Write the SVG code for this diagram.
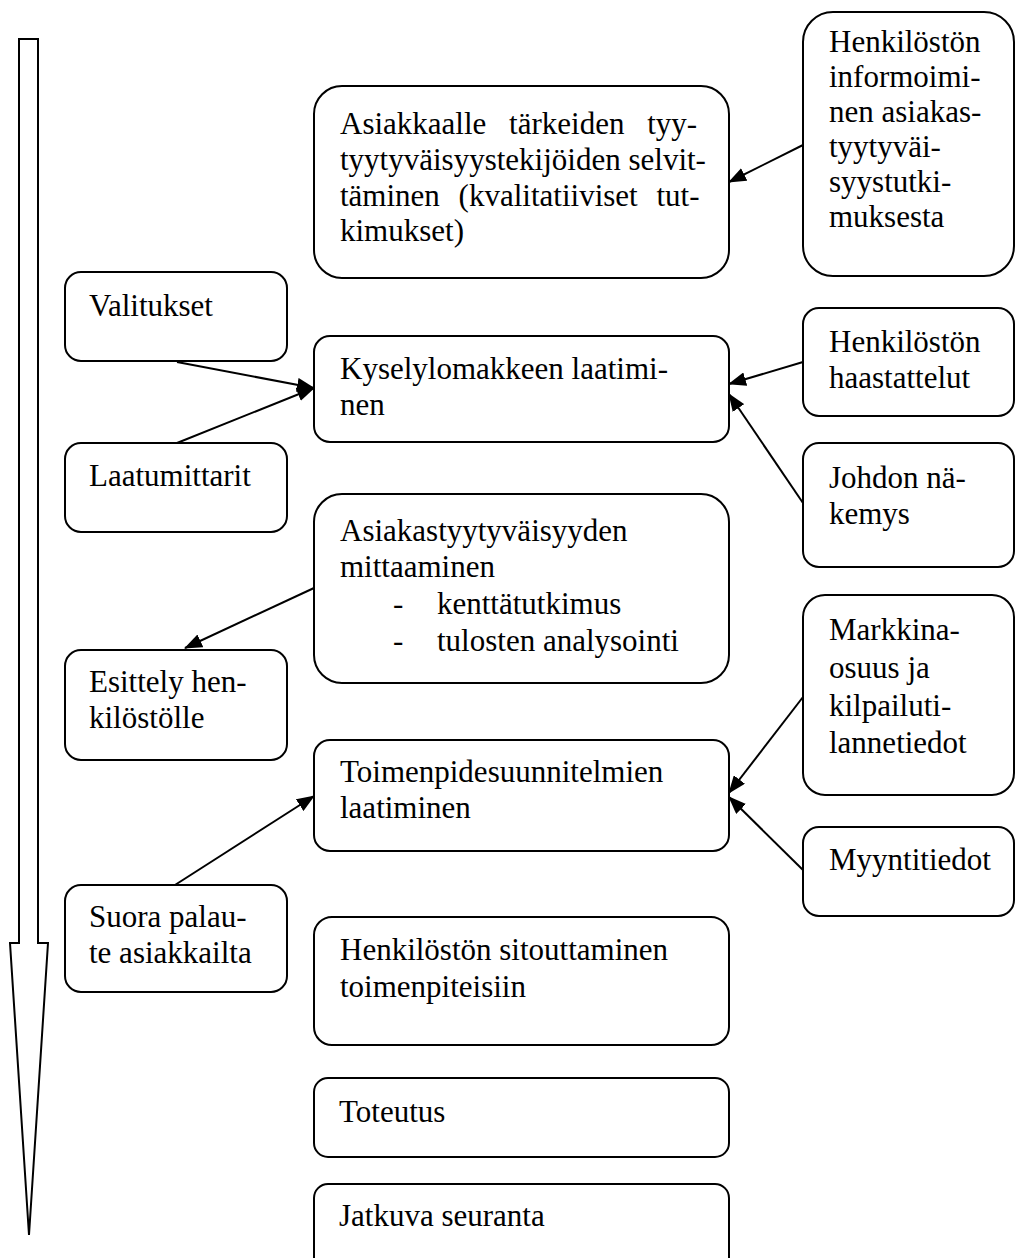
<svg xmlns="http://www.w3.org/2000/svg" width="1016" height="1258" viewBox="0 0 1016 1258">
<style>
.box{fill:#fff;stroke:#000;stroke-width:2}
.t{font-family:"Liberation Serif","Times New Roman",serif;font-size:31px;fill:#000}
.c{stroke:#000;stroke-width:2;fill:none;marker-end:url(#ah)}
</style>
<defs>
<marker id="ah" markerUnits="userSpaceOnUse" markerWidth="18" markerHeight="14" refX="17" refY="7" orient="auto">
<path d="M0,0 L18,7 L0,14 z" fill="#000"/>
</marker>
</defs>
<rect width="1016" height="1258" fill="#fff"/>
<g id="timeline">
<polygon points="19,39 38,39 38,943 48,943 29,1235 10,943 19,943" fill="#fff" stroke="#000" stroke-width="2"/>
</g>
<g id="n-asiakkaalle">
<rect class="box" x="314" y="86" width="415" height="192" rx="28"/>
<text class="t"><tspan x="340" y="134" word-spacing="15">Asiakkaalle tärkeiden tyy-</tspan><tspan x="340" y="170">tyytyväisyystekijöiden selvit-</tspan><tspan x="340" y="206" word-spacing="11">täminen (kvalitatiiviset tut-</tspan><tspan x="340" y="241">kimukset)</tspan></text>
</g>
<g id="n-informoiminen">
<rect class="box" x="803" y="12" width="211" height="264" rx="30"/>
<text class="t"><tspan x="829" y="52">Henkilöstön</tspan><tspan x="829" y="87">informoimi-</tspan><tspan x="829" y="122">nen asiakas-</tspan><tspan x="829" y="157">tyytyväi-</tspan><tspan x="829" y="192">syystutki-</tspan><tspan x="829" y="227">muksesta</tspan></text>
</g>
<g id="n-valitukset">
<rect class="box" x="65" y="272" width="222" height="89" rx="16"/>
<text class="t" x="89" y="316">Valitukset</text>
</g>
<g id="n-kyselylomake">
<rect class="box" x="314" y="336" width="415" height="106" rx="16"/>
<text class="t"><tspan x="340" y="379">Kyselylomakkeen laatimi-</tspan><tspan x="340" y="415">nen</tspan></text>
</g>
<g id="n-haastattelut">
<rect class="box" x="803" y="308" width="211" height="108" rx="16"/>
<text class="t"><tspan x="829" y="352">Henkilöstön</tspan><tspan x="829" y="388">haastattelut</tspan></text>
</g>
<g id="n-laatumittarit">
<rect class="box" x="65" y="443" width="222" height="89" rx="16"/>
<text class="t" x="89" y="486">Laatumittarit</text>
</g>
<g id="n-johdon">
<rect class="box" x="803" y="443" width="211" height="124" rx="16"/>
<text class="t"><tspan x="829" y="488">Johdon nä-</tspan><tspan x="829" y="524">kemys</tspan></text>
</g>
<g id="n-mittaaminen">
<rect class="box" x="314" y="494" width="415" height="189" rx="28"/>
<text class="t"><tspan x="340" y="541">Asiakastyytyväisyyden</tspan><tspan x="340" y="577">mittaaminen</tspan><tspan x="393" y="614">-</tspan><tspan x="437" y="614">kenttätutkimus</tspan><tspan x="393" y="651">-</tspan><tspan x="437" y="651">tulosten analysointi</tspan></text>
</g>
<g id="n-esittely">
<rect class="box" x="65" y="650" width="222" height="110" rx="16"/>
<text class="t"><tspan x="89" y="692">Esittely hen-</tspan><tspan x="89" y="728">kilöstölle</tspan></text>
</g>
<g id="n-markkina">
<rect class="box" x="803" y="595" width="211" height="200" rx="22"/>
<text class="t"><tspan x="829" y="640">Markkina-</tspan><tspan x="829" y="678">osuus ja</tspan><tspan x="829" y="716">kilpailuti-</tspan><tspan x="829" y="753">lannetiedot</tspan></text>
</g>
<g id="n-toimenpide">
<rect class="box" x="314" y="740" width="415" height="111" rx="16"/>
<text class="t"><tspan x="340" y="782">Toimenpidesuunnitelmien</tspan><tspan x="340" y="818">laatiminen</tspan></text>
</g>
<g id="n-myyntitiedot">
<rect class="box" x="803" y="827" width="211" height="89" rx="16"/>
<text class="t" x="829" y="870">Myyntitiedot</text>
</g>
<g id="n-suora">
<rect class="box" x="65" y="885" width="222" height="107" rx="16"/>
<text class="t"><tspan x="89" y="927">Suora palau-</tspan><tspan x="89" y="963">te asiakkailta</tspan></text>
</g>
<g id="n-sitouttaminen">
<rect class="box" x="314" y="917" width="415" height="128" rx="18"/>
<text class="t"><tspan x="340" y="960">Henkilöstön sitouttaminen</tspan><tspan x="340" y="997">toimenpiteisiin</tspan></text>
</g>
<g id="n-toteutus">
<rect class="box" x="314" y="1078" width="415" height="79" rx="14"/>
<text class="t" x="339" y="1122">Toteutus</text>
</g>
<g id="n-seuranta">
<rect class="box" x="314" y="1184" width="415" height="100" rx="14"/>
<text class="t" x="339" y="1226">Jatkuva seuranta</text>
</g>
<g id="connectors">
<line class="c" x1="803" y1="145" x2="729" y2="182"/>
<line class="c" x1="177" y1="362" x2="314" y2="388"/>
<line class="c" x1="177" y1="443" x2="314" y2="388"/>
<line class="c" x1="803" y1="362" x2="729" y2="384"/>
<line class="c" x1="803" y1="503" x2="729" y2="394"/>
<line class="c" x1="314" y1="588" x2="185" y2="648"/>
<line class="c" x1="175" y1="885" x2="314" y2="796"/>
<line class="c" x1="803" y1="697" x2="729" y2="793"/>
<line class="c" x1="803" y1="870" x2="729" y2="797"/>
</g>
</svg>
